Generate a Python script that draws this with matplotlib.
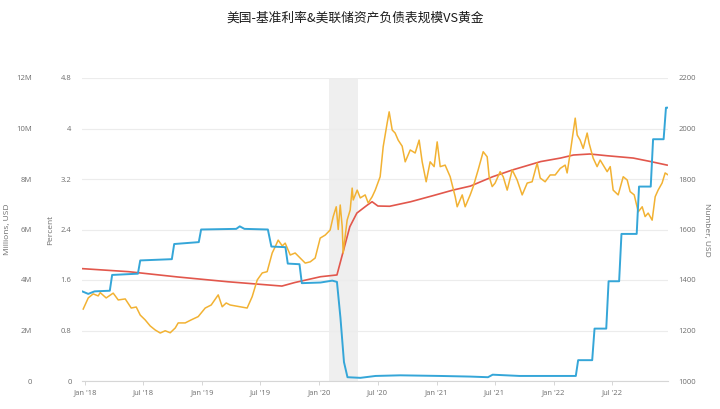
"""
US policy rate, Fed balance sheet size and gold price, 2018-2022.
"""

import matplotlib.dates as mdates
import matplotlib.pyplot as plt
import matplotlib.ticker as mticker
import numpy as np
import pandas as pd

plt.rcParams["font.family"] = ["Open Sans", "Noto Sans CJK SC", "DejaVu Sans"]

TITLE = "美国-基准利率&美联储资产负债表规模VS黄金"
BLUE = "#35A6D8"
RED = "#E2574C"
GOLD = "#F2B233"
TICK_GREY = "#6E6E6E"

# effective federal funds rate, percent (decimal year, value)
rate_year = [
    2017.974, 2018.026, 2018.080, 2018.210, 2018.230, 2018.450, 2018.470,
    2018.740, 2018.760, 2018.970, 2018.990, 2019.290, 2019.320, 2019.360,
    2019.560, 2019.590, 2019.710, 2019.730, 2019.830, 2019.850, 2020.010,
    2020.110, 2020.150, 2020.180, 2020.210, 2020.240, 2020.350, 2020.480,
    2020.690, 2021.030, 2021.290, 2021.440, 2021.480, 2021.710, 2022.190,
    2022.210, 2022.330, 2022.350, 2022.450, 2022.470, 2022.560, 2022.580,
    2022.710, 2022.730, 2022.830, 2022.850, 2022.940, 2022.960, 2022.970,
]
rate_pct = [
    1.42, 1.38, 1.42, 1.43, 1.68, 1.70, 1.91,
    1.93, 2.17, 2.20, 2.40, 2.41, 2.45, 2.41,
    2.40, 2.13, 2.12, 1.86, 1.85, 1.55, 1.56,
    1.59, 1.57, 1.00, 0.30, 0.06, 0.05, 0.08,
    0.09, 0.08, 0.07, 0.06, 0.10, 0.08, 0.08,
    0.33, 0.33, 0.83, 0.83, 1.58, 1.58, 2.33,
    2.33, 3.08, 3.08, 3.83, 3.83, 4.33, 4.33,
]

# Fed total assets, millions of USD
sheet_year = [
    2017.974, 2018.370, 2018.790, 2019.220, 2019.680, 2019.790, 2020.010,
    2020.150, 2020.200, 2020.260, 2020.320, 2020.410, 2020.450, 2020.500,
    2020.600, 2020.780, 2020.970, 2021.140, 2021.290, 2021.480, 2021.650,
    2021.890, 2022.060, 2022.170, 2022.310, 2022.460, 2022.680, 2022.830,
    2022.970,
]
sheet_musd = [
    4.45e6, 4.33e6, 4.12e6, 3.93e6, 3.76e6, 3.90e6, 4.13e6,
    4.20e6, 5.07e6, 6.11e6, 6.65e6, 6.97e6, 7.10e6, 6.93e6,
    6.92e6, 7.10e6, 7.34e6, 7.56e6, 7.72e6, 8.09e6, 8.36e6,
    8.69e6, 8.83e6, 8.95e6, 8.99e6, 8.92e6, 8.83e6, 8.69e6,
    8.55e6,
]

# gold price, USD per ounce
gold_year = [
    2017.983, 2018.026, 2018.068, 2018.111, 2018.128, 2018.179, 2018.239,
    2018.282, 2018.342, 2018.393, 2018.436, 2018.470, 2018.512, 2018.555,
    2018.598, 2018.641, 2018.683, 2018.726, 2018.769, 2018.794, 2018.854,
    2018.905, 2018.965, 2019.025, 2019.076, 2019.136, 2019.170, 2019.204,
    2019.238, 2019.324, 2019.383, 2019.426, 2019.469, 2019.512, 2019.554,
    2019.597, 2019.623, 2019.648, 2019.683, 2019.708, 2019.751, 2019.793,
    2019.836, 2019.879, 2019.922, 2019.964, 2020.007, 2020.050, 2020.092,
    2020.118, 2020.144, 2020.161, 2020.178, 2020.195, 2020.203, 2020.237,
    2020.263, 2020.280, 2020.289, 2020.323, 2020.349, 2020.391, 2020.417,
    2020.451, 2020.477, 2020.519, 2020.545, 2020.579, 2020.596, 2020.622,
    2020.647, 2020.673, 2020.707, 2020.733, 2020.776, 2020.818, 2020.852,
    2020.878, 2020.912, 2020.946, 2020.980, 2021.006, 2021.032, 2021.074,
    2021.117, 2021.160, 2021.177, 2021.220, 2021.245, 2021.288, 2021.314,
    2021.356, 2021.399, 2021.433, 2021.450, 2021.476, 2021.501, 2021.544,
    2021.570, 2021.604, 2021.647, 2021.689, 2021.732, 2021.775, 2021.817,
    2021.860, 2021.886, 2021.928, 2021.971, 2022.014, 2022.057, 2022.099,
    2022.116, 2022.142, 2022.185, 2022.202, 2022.227, 2022.253, 2022.287,
    2022.304, 2022.338, 2022.372, 2022.398, 2022.424, 2022.458, 2022.484,
    2022.509, 2022.552, 2022.595, 2022.629, 2022.654, 2022.689, 2022.723,
    2022.757, 2022.782, 2022.808, 2022.842, 2022.868, 2022.893, 2022.927,
    2022.953, 2022.979,
]
gold_usd = [
    1285, 1329, 1345, 1337, 1350, 1329, 1348,
    1321, 1325, 1289, 1293, 1261, 1242, 1218,
    1202, 1190, 1199, 1191, 1210, 1230, 1230,
    1242, 1255, 1289, 1301, 1341, 1294, 1309,
    1301, 1294, 1289, 1334, 1400, 1428, 1433,
    1507, 1532, 1558, 1535, 1546, 1499, 1507,
    1487, 1467, 1472, 1487, 1566, 1578, 1598,
    1651, 1690, 1600, 1697, 1611, 1507, 1637,
    1677, 1764, 1717, 1756, 1725, 1737, 1705,
    1730, 1756, 1809, 1928, 2022, 2066, 1994,
    1982, 1954, 1930, 1868, 1915, 1903, 1954,
    1868, 1789, 1868, 1849, 1947, 1849, 1855,
    1809, 1730, 1690, 1737, 1690, 1737, 1770,
    1836, 1908, 1888, 1809, 1770, 1784, 1829,
    1809, 1756, 1836, 1796, 1737, 1784, 1789,
    1863, 1804, 1789, 1816, 1816, 1842, 1855,
    1824, 1903, 2041, 1974, 1954, 1921, 1982,
    1941, 1883, 1849, 1875, 1855, 1829, 1849,
    1756, 1737, 1809, 1796, 1750, 1737, 1670,
    1690, 1651, 1665, 1637, 1730, 1756, 1784,
    1824, 1816,
]

# shaded recession window
recession = ("2020-02-01", "2020-04-30")

pct_ticks = [0, 0.8, 1.6, 2.4, 3.2, 4, 4.8]
musd_ticks = [0, 2e6, 4e6, 6e6, 8e6, 10e6, 12e6]
gold_ticks = [1000, 1200, 1400, 1600, 1800, 2000, 2200]


def to_dates(years):
    years = np.asarray(years, dtype=float)
    return pd.Timestamp("2018-01-01") + pd.to_timedelta((years - 2018) * 365.25, unit="D")


def style_y(axis, pad):
    axis.tick_params(axis="y", length=0, labelsize=5.5, labelcolor=TICK_GREY, pad=pad)
    for s in axis.spines.values():
        s.set_visible(False)


fig = plt.figure(figsize=(7.2, 4.09), dpi=100)
ax = fig.add_axes([82 / 720, 1 - 381 / 409, 586 / 720, 303 / 409])
ax_gold = ax.twinx()
ax_pct = ax.twinx()

# balance sheet on the base axes, outer left scale
ax.axvspan(pd.Timestamp(recession[0]), pd.Timestamp(recession[1]),
           color="#EFEFEF", linewidth=0, zorder=0)
ax.plot(to_dates(sheet_year), sheet_musd, color=RED, linewidth=1.2)
ax.set_ylim(0, 12e6)
ax.set_yticks(musd_ticks)
ax.yaxis.set_major_formatter(mticker.FuncFormatter(
    lambda v, _: "0" if v == 0 else f"{v / 1e6:g}M"))
ax.grid(axis="y", color="#ECECEC", linewidth=0.8)
ax.set_axisbelow(True)
style_y(ax, 36)
ax.set_ylabel("Millions, USD", fontsize=6, color=TICK_GREY, labelpad=4)

ax_gold.plot(to_dates(gold_year), gold_usd, color=GOLD, linewidth=1.1)
ax_gold.set_ylim(1000, 2200)
ax_gold.set_yticks(gold_ticks)
style_y(ax_gold, 7.5)
ax_gold.set_ylabel("Number, USD", fontsize=6, color=TICK_GREY,
                   rotation=-90, labelpad=10)

ax_pct.plot(to_dates(rate_year), rate_pct, color=BLUE, linewidth=1.4)
ax_pct.set_ylim(0, 4.8)
ax_pct.set_yticks(pct_ticks)
ax_pct.yaxis.set_major_formatter(mticker.FuncFormatter(lambda v, _: f"{v:g}"))
ax_pct.yaxis.tick_left()
ax_pct.yaxis.set_label_position("left")
style_y(ax_pct, 7.5)
ax_pct.set_ylabel("Percent", fontsize=6, color=TICK_GREY, labelpad=4.5)

ax.set_xlim(pd.Timestamp("2017-12-22"), pd.Timestamp("2022-12-24"))
ax.xaxis.set_major_locator(mdates.MonthLocator(bymonth=[1, 7]))
ax.xaxis.set_major_formatter(mdates.DateFormatter("%b '%y"))
ax.tick_params(axis="x", length=3, width=0.6, color="#D0D0D0",
               labelsize=5.5, labelcolor=TICK_GREY, pad=3)
ax.spines["bottom"].set_visible(True)
ax.spines["bottom"].set_color("#D6D6D6")
ax.spines["bottom"].set_linewidth(0.8)

fig.text(0.493, 1 - 18 / 409, TITLE, ha="center", va="center", fontsize=9.2,
         color="#1A1A1A", family=["Noto Sans CJK SC", "DejaVu Sans"],
         fontweight="medium")

fig.savefig("out.png", dpi=100)
